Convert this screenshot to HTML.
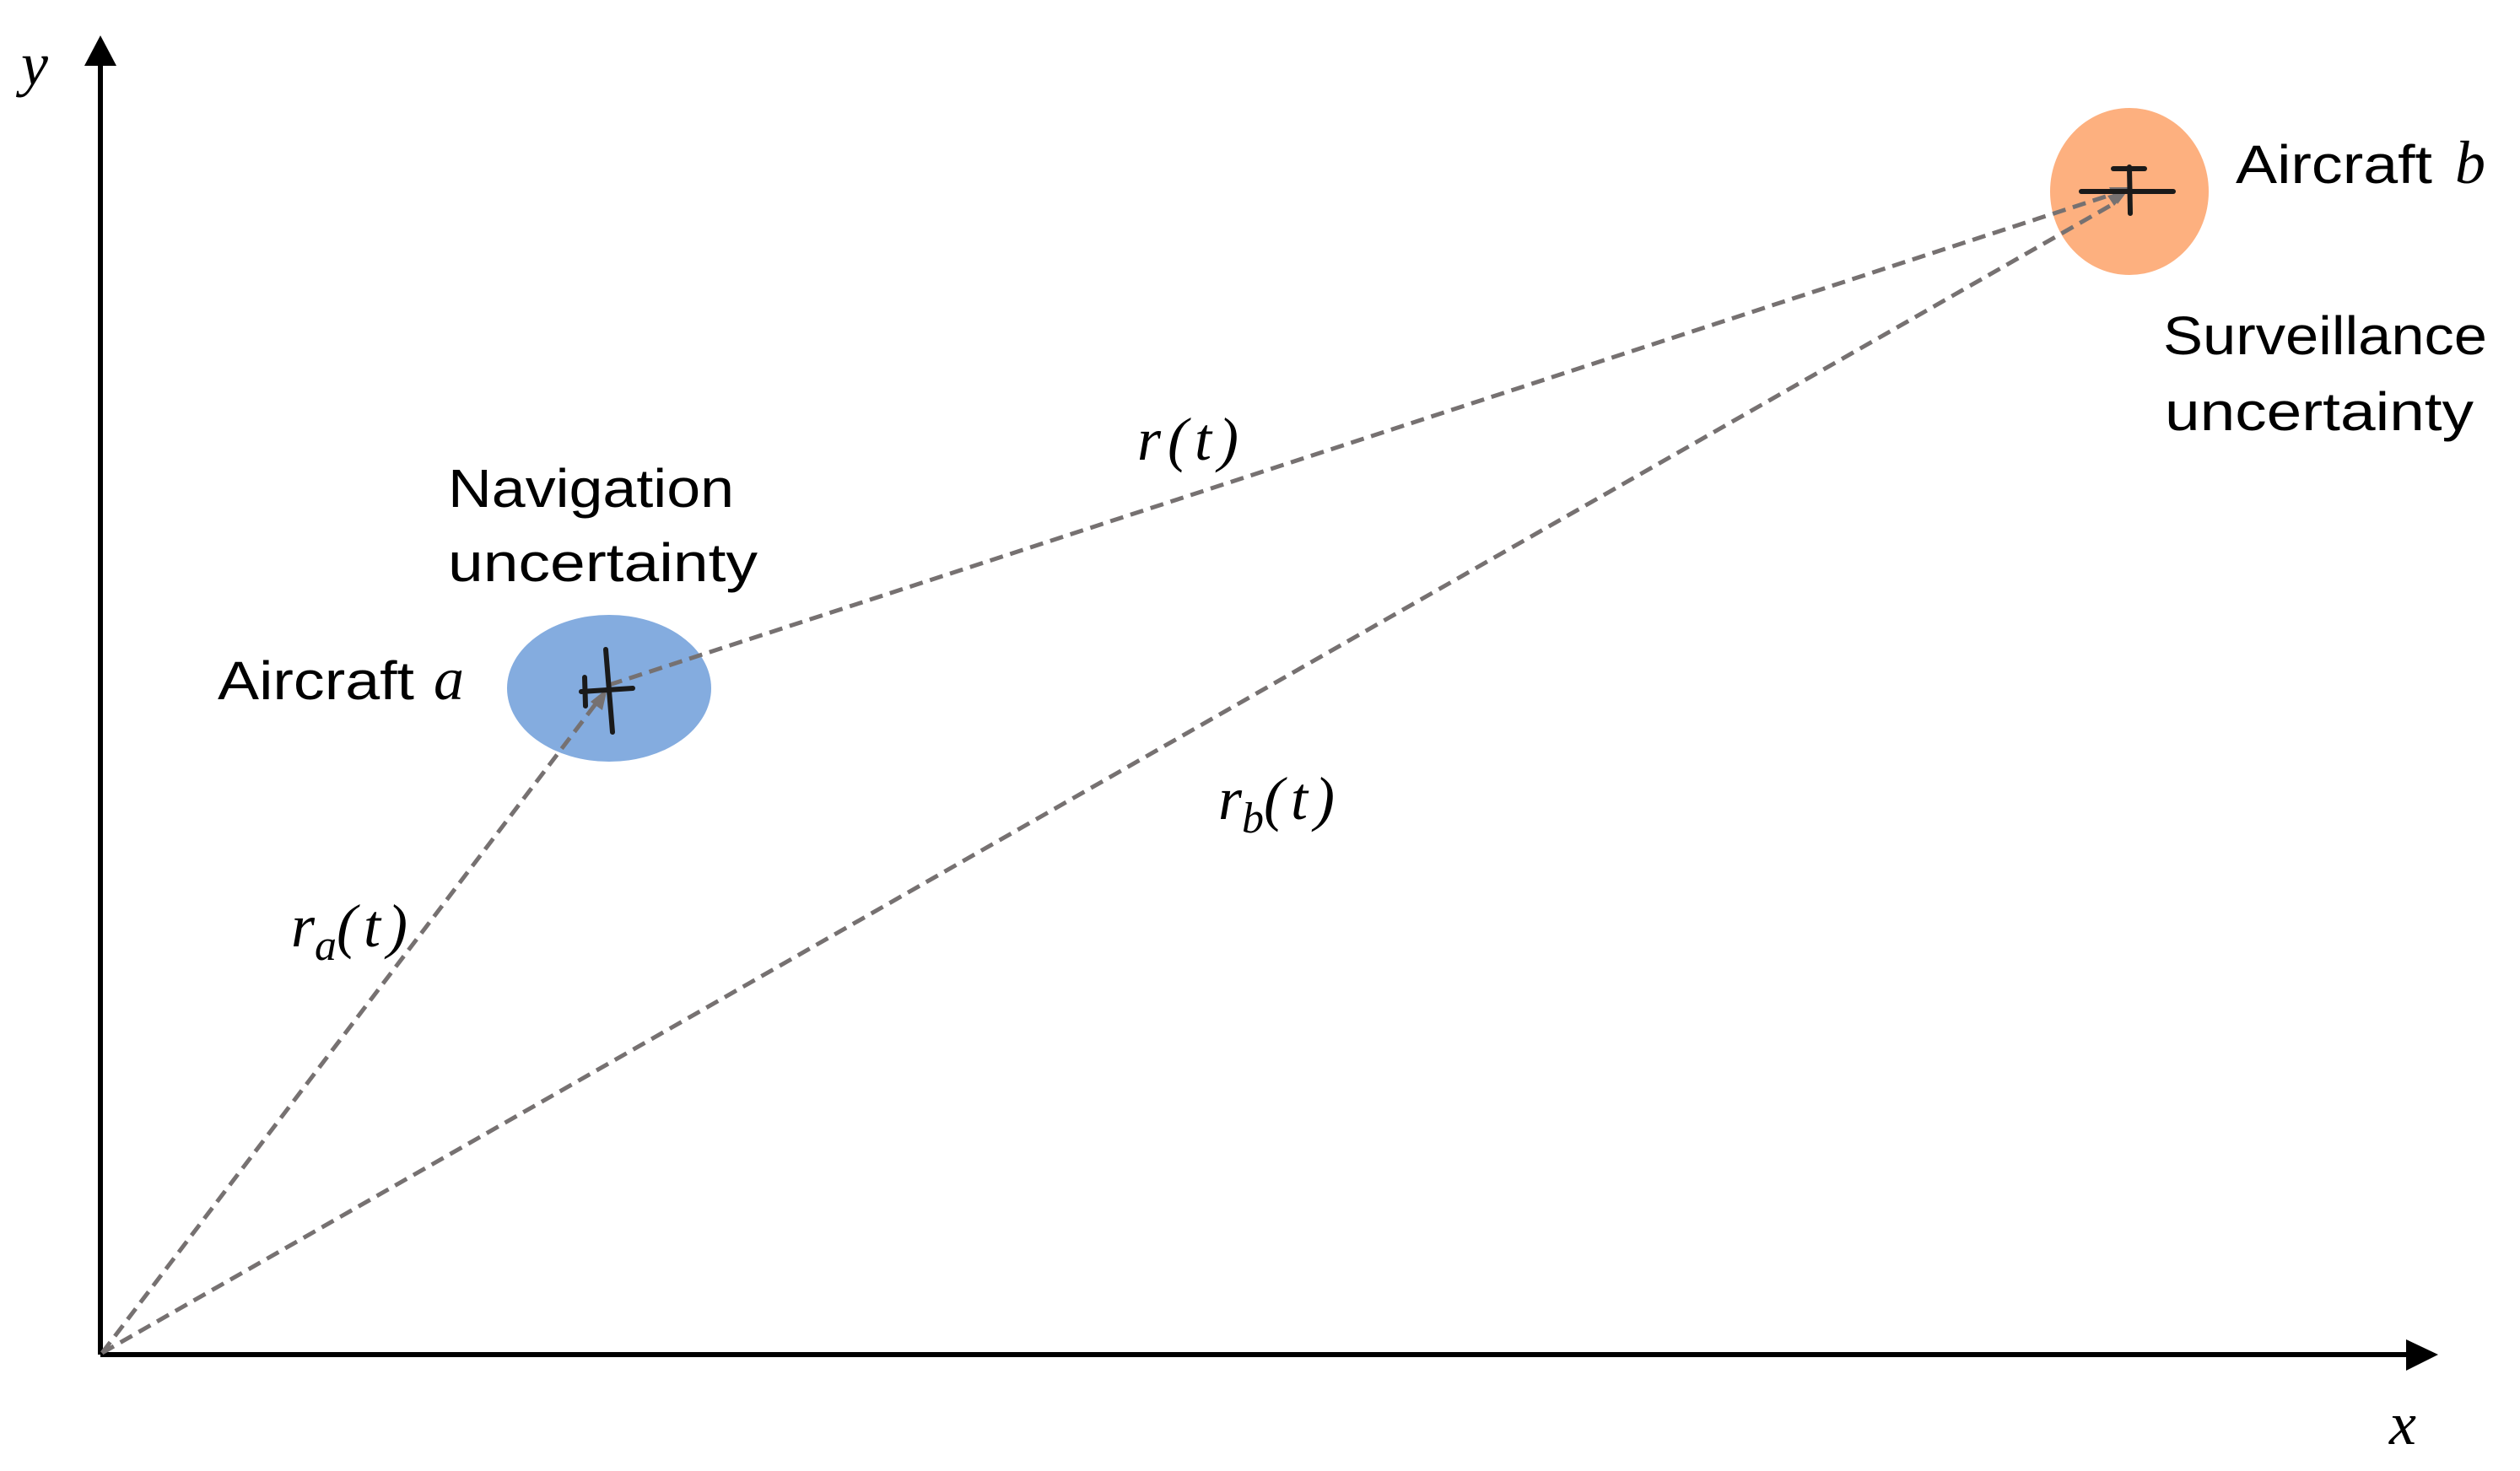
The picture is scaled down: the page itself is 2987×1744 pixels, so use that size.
<!DOCTYPE html>
<html><head><meta charset="utf-8"><style>
html,body{margin:0;padding:0;background:#fff;}
svg{display:block}
.t{font-family:"Liberation Sans",sans-serif;font-size:64px;fill:#000}
.m{font-family:"Liberation Serif",serif;font-style:italic;font-size:72px;fill:#000}
</style></head><body>
<svg width="2987" height="1744" viewBox="0 0 2987 1744" xmlns="http://www.w3.org/2000/svg">
<ellipse cx="722" cy="816" rx="121" ry="87" fill="#84ACDF"/>
<ellipse cx="2524" cy="227" rx="94" ry="99" fill="#FDB07F"/>
<line x1="119" y1="1606" x2="119" y2="75" stroke="#000" stroke-width="6"/>
<polygon points="100,78 138,78 119,42" fill="#000"/>
<line x1="119" y1="1606" x2="2855" y2="1606" stroke="#000" stroke-width="6"/>
<polygon points="2852,1588 2852,1625 2890,1606" fill="#000"/>
<g stroke="#767171" stroke-width="5" stroke-dasharray="16,9" fill="none">
<line x1="121" y1="1604" x2="708" y2="832"/>
<line x1="121" y1="1604" x2="2508" y2="240"/>
<line x1="722" y1="812" x2="2505" y2="230"/>
</g>
<polygon points="720,816 700,832 714,842" fill="#767171"/>
<polygon points="2525,222 2500,222 2510,242" fill="#767171"/>
<polygon points="2522,226 2498,232 2506,244" fill="#767171"/>
<g stroke="#1a1a1a" stroke-linecap="round" fill="none">
<line x1="718" y1="770" x2="726" y2="868" stroke-width="6"/>
<line x1="689" y1="820" x2="750" y2="816" stroke-width="6"/>
<line x1="693" y1="803" x2="694" y2="837" stroke-width="6"/>
</g>
<g stroke="#1a1a1a" stroke-linecap="round" fill="none">
<line x1="2467" y1="227" x2="2576" y2="227" stroke-width="6"/>
<line x1="2505" y1="200" x2="2542" y2="200" stroke-width="6"/>
<line x1="2524" y1="198" x2="2525" y2="253" stroke-width="6"/>
</g>
<text class="m" x="25" y="100" font-size="74">y</text>
<text class="m" x="2832" y="1712" font-size="70">x</text>
<text class="t" x="531" y="601" textLength="339" lengthAdjust="spacingAndGlyphs">Navigation</text>
<text class="t" x="531" y="689" textLength="367" lengthAdjust="spacingAndGlyphs">uncertainty</text>
<text class="t" x="258" y="829" textLength="233" lengthAdjust="spacingAndGlyphs">Aircraft</text>
<text class="m" x="514" y="829">a</text>
<text class="t" x="2650" y="217" textLength="233" lengthAdjust="spacingAndGlyphs">Aircraft</text>
<text class="m" x="2910" y="217">b</text>
<text class="t" x="2564" y="420" textLength="384" lengthAdjust="spacingAndGlyphs">Surveillance</text>
<text class="t" x="2566" y="510" textLength="366" lengthAdjust="spacingAndGlyphs">uncertainty</text>
<text class="m" x="1348" y="545" letter-spacing="8">r(t)</text>
<text class="m" x="1444" y="971">r<tspan font-size="52" dy="16">b</tspan><tspan dy="-16" letter-spacing="8">(t)</tspan></text>
<text class="m" x="345" y="1122">r<tspan font-size="52" dy="16">a</tspan><tspan dy="-16" letter-spacing="8">(t)</tspan></text>
</svg>
</body></html>
